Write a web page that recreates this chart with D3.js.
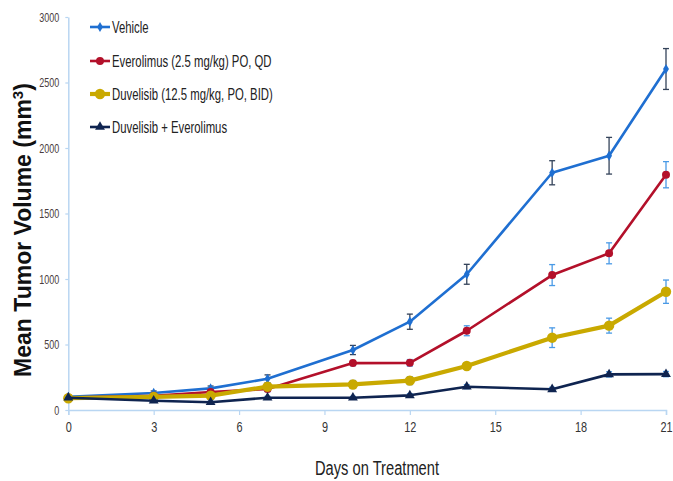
<!DOCTYPE html>
<html><head><meta charset="utf-8">
<script src="https://cdn.jsdelivr.net/npm/d3@7"></script>
<style>body{margin:0;background:#fff}svg{display:block}</style>
</head><body><svg id="c" width="673" height="481"></svg>
<script>
const days = [0, 3, 5, 7, 10, 12, 14, 17, 19, 21];
const seriesNames = ["Vehicle", "Everolimus (2.5 mg/kg) PO, QD", "Duvelisib (12.5 mg/kg, PO, BID)", "Duvelisib + Everolimus"];
const vehicle    = [100, 130, 165, 238, 458, 674, 1036, 1811, 1941, 2603];
const everolimus = [95, 108, 137, 160, 358, 360, 605, 1030, 1196, 1796];
const duvelisib  = [90, 100, 110, 178, 195, 224, 336, 552, 644, 903];
const combo      = [94, 71, 59, 94, 94, 112, 178, 158, 272, 274];
const vehicleErr    = [8, 15, 18, 30, 35, 58, 76, 92, 140, 156];
const everolimusErr = [8, 12, 15, 20, 20, 25, 38, 80, 80, 100];
const duvelisibErr  = [8, 10, 12, 20, 30, 30, 25, 75, 57, 89];
const comboErr      = [5, 8, 8, 10, 10, 12, 15, 15, 20, 20];
const xTicks = [0, 3, 6, 9, 12, 15, 18, 21];
const yTicks = [0, 500, 1000, 1500, 2000, 2500, 3000];

const svg = d3.select("#c");
const x = d3.scaleLinear().domain([0, 21]).range([68.3, 666]);
const y = d3.scaleLinear().domain([0, 3000]).range([410, 17]);
const axisColor = "#b9d6f2";

// axes
const xa = svg.append("g").attr("transform", "translate(0,410)")
  .call(d3.axisBottom(x).tickValues(xTicks).tickSize(5).tickFormat(d3.format("d")));
xa.select(".domain").attr("stroke", axisColor).attr("stroke-width", 1.5);
xa.selectAll(".tick line").attr("stroke", axisColor).attr("stroke-width", 1.2);
xa.selectAll(".tick text").attr("font-family", "Liberation Sans, Arial, sans-serif")
  .attr("font-size", 14).attr("fill", "#333").attr("y", 0).attr("dy", 0)
  .attr("transform", "translate(0,22) scale(0.78,1)");

const ya = svg.append("g").attr("transform", "translate(68.3,0)")
  .call(d3.axisLeft(y).tickValues(yTicks).tickSize(3).tickSizeOuter(0).tickFormat(d3.format("d")));
ya.select(".domain").attr("stroke", axisColor).attr("stroke-width", 1.5);
ya.selectAll(".tick line").attr("stroke", axisColor).attr("stroke-width", 1.2);
ya.selectAll(".tick text").attr("font-family", "Liberation Sans, Arial, sans-serif")
  .attr("font-size", 12.5).attr("fill", "#4a3c3c").attr("x", 0).attr("dy", "0.35em")
  .attr("text-anchor", "end")
  .attr("transform", "translate(-9,0) scale(0.72,1)");

// titles
svg.append("text").attr("transform", "translate(31,230) rotate(-90)")
  .attr("text-anchor", "middle").attr("font-family", "Liberation Sans, Arial, sans-serif")
  .attr("font-weight", "bold").attr("font-size", 23).attr("fill", "#111")
  .html('Mean Tumor Volume (mm<tspan dy="-8" font-size="15">3</tspan><tspan dy="8">)</tspan>');
svg.append("text").attr("transform", "translate(377,475) scale(0.7,1)")
  .attr("text-anchor", "middle").attr("font-family", "Liberation Sans, Arial, sans-serif")
  .attr("font-size", 21).attr("fill", "#222").text("Days on Treatment");

const series = [
  {name: seriesNames[0], vals: vehicle, err: vehicleErr, color: "#1f6fd1", width: 2.6, sym: d3.symbolDiamond, size: 30, errColor: "#34435a"},
  {name: seriesNames[1], vals: everolimus, err: everolimusErr, color: "#b3102a", width: 2.6, sym: d3.symbolCircle, size: 50, errColor: "#4a9ae6"},
  {name: seriesNames[2], vals: duvelisib, err: duvelisibErr, color: "#c9a900", width: 4.2, sym: d3.symbolCircle, size: 85, errColor: "#4a9ae6"},
  {name: seriesNames[3], vals: combo, err: comboErr, color: "#0f2450", width: 2.6, sym: d3.symbolTriangle, size: 42, errColor: "#4a9ae6"}
];

const line = d3.line().x((d, i) => x(days[i])).y(d => y(d));
series.forEach(s => {
  const g = svg.append("g");
  const eb = g.append("g").attr("stroke", s.errColor).attr("stroke-width", 1.3).attr("fill", "none");
  days.forEach((d, i) => {
    const cx = x(d), top = y(s.vals[i] + s.err[i]), bot = y(s.vals[i] - s.err[i]);
    eb.append("line").attr("x1", cx).attr("x2", cx).attr("y1", top).attr("y2", bot);
    eb.append("line").attr("x1", cx - 3).attr("x2", cx + 3).attr("y1", top).attr("y2", top);
    eb.append("line").attr("x1", cx - 3).attr("x2", cx + 3).attr("y1", bot).attr("y2", bot);
  });
  g.append("path").attr("d", line(s.vals)).attr("fill", "none")
    .attr("stroke", s.color).attr("stroke-width", s.width).attr("stroke-linejoin", "round");
  g.selectAll("path.m").data(s.vals).enter().append("path").attr("class", "m")
    .attr("transform", (d, i) => `translate(${x(days[i])},${y(d)})`)
    .attr("d", d3.symbol().type(s.sym).size(s.size)).attr("fill", s.color);
});

// legend
const legY = [27, 61, 94, 127];
series.forEach((s, i) => {
  const g = svg.append("g").attr("transform", `translate(0,${legY[i]})`);
  g.append("line").attr("x1", 90).attr("x2", 110).attr("y1", 0).attr("y2", 0)
    .attr("stroke", s.color).attr("stroke-width", s.width);
  g.append("path").attr("transform", "translate(100,0)")
    .attr("d", d3.symbol().type(s.sym).size(s.size)).attr("fill", s.color);
  g.append("text").attr("transform", "translate(112,6) scale(0.71,1)")
    .attr("font-family", "Liberation Sans, Arial, sans-serif").attr("font-size", 16)
    .attr("fill", "#222").text(s.name);
});
</script></body></html>
